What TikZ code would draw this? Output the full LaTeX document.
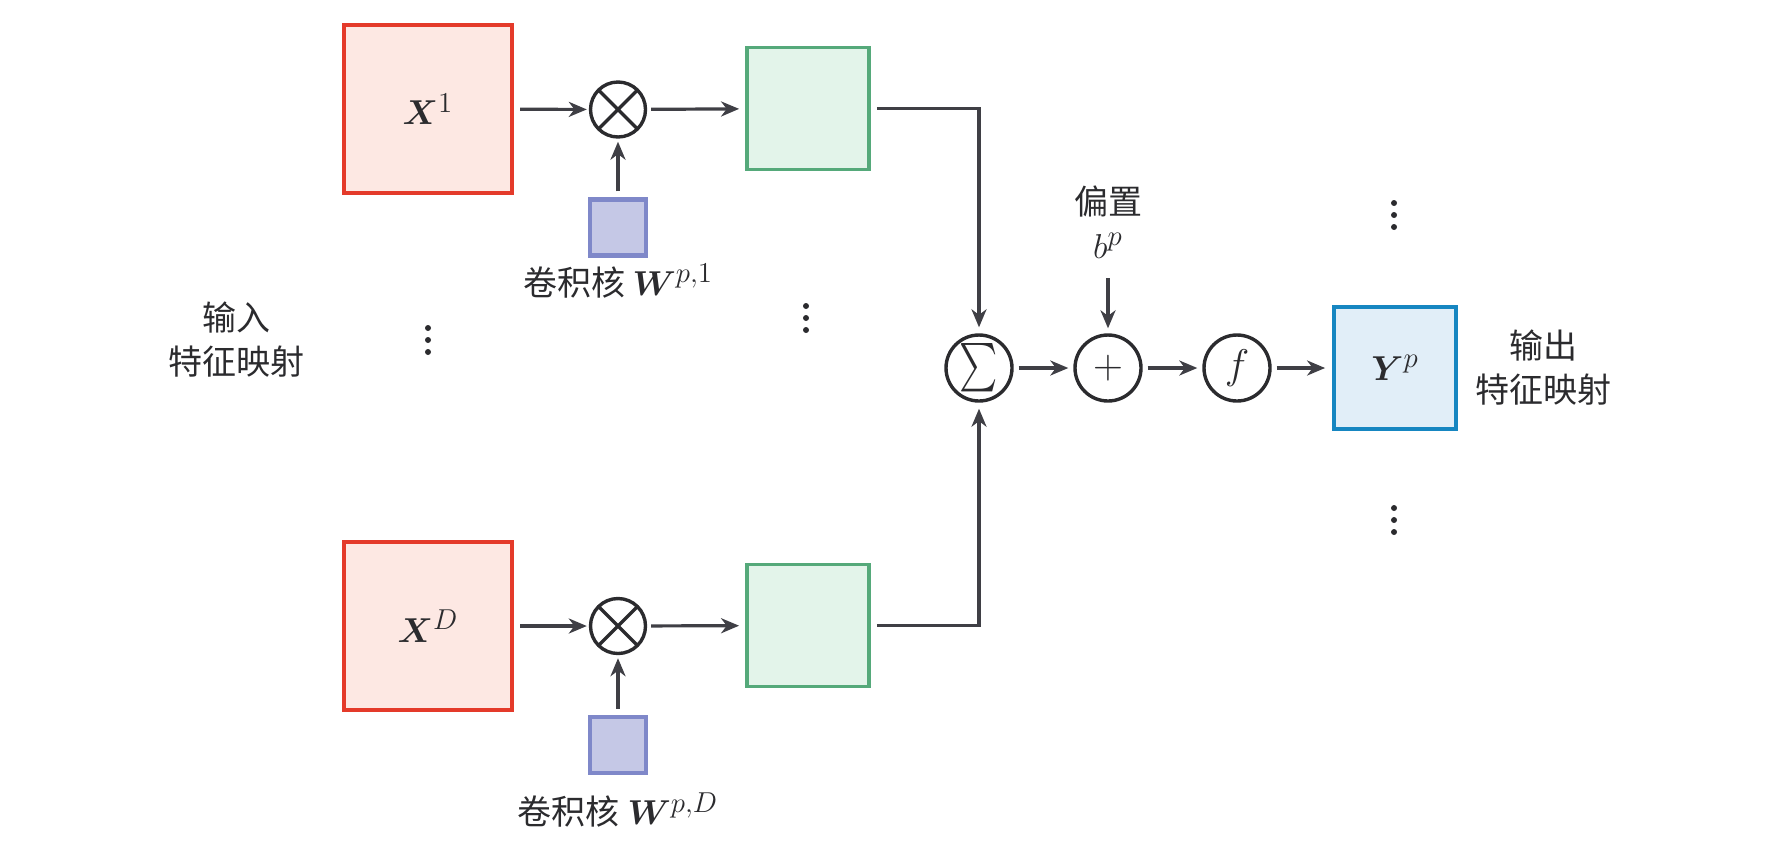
\documentclass[tikz,border=0pt]{standalone}
\usepackage{amsmath,bm}
\usepackage{fontspec}
\newfontfamily\cjk{Noto Sans CJK SC}
\usetikzlibrary{arrows.meta}
\DeclareMathSizes{19}{19}{15}{11}
\DeclareMathSizes{18}{18}{14.5}{11}
\DeclareMathSizes{22}{22}{16}{12}
\definecolor{redline}{HTML}{E43A2A}
\definecolor{redfill}{HTML}{FDE8E3}
\definecolor{greenline}{HTML}{55A97A}
\definecolor{greenfill}{HTML}{E3F4EA}
\definecolor{blueline}{HTML}{7F88C9}
\definecolor{bluefill}{HTML}{C5C8E6}
\definecolor{yline}{HTML}{1686C1}
\definecolor{yfill}{HTML}{E1EEF8}
\definecolor{arrowgray}{HTML}{3F3F45}
\definecolor{txt}{HTML}{2B2B2E}
\tikzset{
  inbox/.style={draw=redline, fill=redfill, line width=2.1pt, minimum size=84pt, inner sep=0pt, text=txt, font=\fontsize{19}{22}\selectfont},
  featbox/.style={draw=greenline, fill=greenfill, line width=1.9pt, minimum size=61pt, inner sep=0pt},
  kernbox/.style={draw=blueline, fill=bluefill, line width=2.1pt, minimum size=28pt, inner sep=0pt},
  outbox/.style={draw=yline, fill=yfill, line width=1.9pt, minimum size=61pt, inner sep=0pt, text=txt, font=\fontsize{19}{22}\selectfont},
  opcirc/.style={draw=txt, circle, line width=1.7pt, minimum size=33pt, inner sep=0pt, text=txt, font=\fontsize{22}{24}\selectfont},
  mulcirc/.style={draw=txt, circle, line width=1.7pt, minimum size=27.5pt, inner sep=0pt,
    path picture={\draw[txt, line width=1.7pt]
      (path picture bounding box.north west) -- (path picture bounding box.south east)
      (path picture bounding box.north east) -- (path picture bounding box.south west);}},
  lbl/.style={text=txt, align=center, font=\cjk\fontsize{17}{22}\selectfont, inner sep=0pt},
  arr/.style={draw=arrowgray, line width=1.6pt, -{Stealth[length=9pt,width=7.5pt,inset=2.8pt]}},
  dotc/.style={fill=txt, draw=none, circle, minimum size=3pt, inner sep=0pt}
}
\newcommand{\vdotsat}[2]{%
  \node[dotc] at (#1,#2-12) {};
  \node[dotc] at (#1,#2) {};
  \node[dotc] at (#1,#2+12) {};}
\begin{document}
\begin{tikzpicture}[x=0.5pt,y=-0.5pt]
\useasboundingbox (0,0) rectangle (1791,853);

% input boxes
\node[inbox] (x1) at (428,109) {$\bm{X}^{1}$};
\node[inbox] (xD) at (428,626) {$\bm{X}^{D}$};

% multipliers
\node[mulcirc] (ot1) at (618,109.5) {};
\node[mulcirc] (otD) at (618,626) {};

% kernels
\node[kernbox] (k1) at (618,227.5) {};
\node[kernbox] (kD) at (618,745) {};
\node[lbl] (lab1) at (618,281) {卷积核 {\fontsize{18}{20}\selectfont$\bm{W}^{p,1}$}};
\node[lbl] (labD) at (618,810) {卷积核 {\fontsize{18}{20}\selectfont$\bm{W}^{p,D}$}};

% feature boxes
\node[featbox] (g1) at (808,108.5) {};
\node[featbox] (gD) at (808,625.5) {};

% ops
\node[opcirc, font=\fontsize{19}{22}\selectfont] (sum) at (979,368) {\scalebox{1.05}[1.4]{$\sum$}};
\node[opcirc] (plus) at (1108,368) {$+$};
\node[opcirc] (f) at (1237,368) {$f$};
\node[outbox] (y) at (1395,368) {$\bm{Y}^{p}$};

% labels
\node[lbl] (bias) at (1108,222) {偏置\\{\fontsize{19}{20}\selectfont$b^{p}$}};
\coordinate (bstart) at (1108,278);
\node[lbl] (inlab) at (236,340) {输入\\特征映射};
\node[lbl] (outlab) at (1543,368) {输出\\特征映射};

% dots
\vdotsat{428}{340}
\vdotsat{806}{318}
\vdotsat{1394}{215}
\vdotsat{1394}{520}

% connectors
\draw[arr, shorten <=3pt, shorten >=1pt] (x1) -- (ot1);
\draw[arr, shorten <=3pt, shorten >=1pt] (xD) -- (otD);
\draw[arr, shorten <=2pt, shorten >=3pt] (ot1) -- (g1);
\draw[arr, shorten <=2pt, shorten >=3pt] (otD) -- (gD);
\draw[arr, shorten <=3pt, shorten >=1.5pt] (k1) -- (ot1);
\draw[arr, shorten <=3pt, shorten >=1.5pt] (kD) -- (otD);
\draw[arr, shorten <=3pt, shorten >=3pt] (g1.east) -| (sum.north);
\draw[arr, shorten <=3pt, shorten >=3pt] (gD.east) -| (sum.south);
\draw[arr, shorten >=2.5pt] (bstart) -- (plus);
\draw[arr, shorten <=2.5pt, shorten >=2.5pt] (sum) -- (plus);
\draw[arr, shorten <=2.5pt, shorten >=2.5pt] (plus) -- (f);
\draw[arr, shorten <=2.5pt, shorten >=3.5pt] (f) -- (y);
\end{tikzpicture}
\end{document}
